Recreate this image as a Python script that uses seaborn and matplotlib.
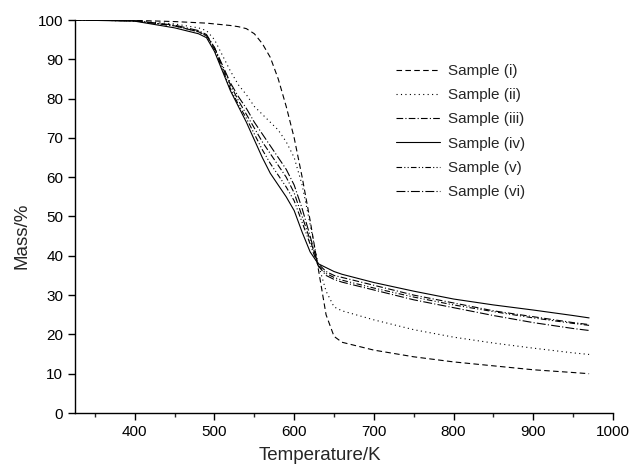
import numpy as np
import pandas as pd
import seaborn as sns
import matplotlib
matplotlib.use("Agg")
import matplotlib.pyplot as plt
from matplotlib.ticker import MultipleLocator

temperature = [325, 400, 450, 480, 490, 500, 510, 520, 530, 540, 550, 560, 570, 580, 590,
               600, 610, 620, 630, 640, 650, 660, 700, 750, 800, 850, 900, 950, 970]

mass_i = [100, 99.9, 99.6, 99.3, 99.2, 99, 98.8, 98.6, 98.3, 97.8, 96.5, 94, 90.5, 85, 78,
          70, 60, 49, 37, 25, 19.5, 18, 16, 14.3, 13, 12, 11, 10.3, 10]
mass_ii = [100, 99.8, 99, 98, 97.3, 95, 91, 87, 83.5, 81, 78, 76, 74, 72, 69,
           65, 58, 48, 38, 31, 27, 26, 23.7, 21.2, 19.3, 17.8, 16.5, 15.3, 14.9]
mass_iii = [100, 99.8, 98.5, 97, 96, 93, 88, 83.5, 79.5, 76, 72.5, 69, 66, 63, 60,
            56, 50, 44, 38, 36, 35, 34.5, 32.5, 30, 28, 26, 24.5, 23, 22.5]
mass_iv = [100, 99.7, 98, 96.5, 95.5, 92, 87, 82, 78, 74, 69.5, 65, 61, 58, 55,
           51.5, 46, 41, 38, 37, 36, 35.3, 33.2, 31, 29, 27.5, 26.2, 24.8, 24.2]
mass_v = [100, 99.8, 98.5, 97, 96, 92.5, 87.5, 82.5, 78.5, 75, 71, 67, 63.5, 60.5, 57.5,
          54, 48.5, 43, 37.5, 35.5, 34.5, 33.8, 31.8, 29.5, 27.5, 25.8, 24.2, 22.8, 22.3]
mass_vi = [100, 99.8, 98.7, 97.3, 96.3, 93, 88.5, 84, 80.5, 77.5, 74, 71, 68, 65, 62,
           58, 52, 45, 37.5, 35, 34, 33.3, 31.3, 28.8, 26.8, 24.8, 23, 21.5, 21]

samples = ["Sample (i)", "Sample (ii)", "Sample (iii)", "Sample (iv)", "Sample (v)", "Sample (vi)"]
series = [mass_i, mass_ii, mass_iii, mass_iv, mass_v, mass_vi]

df = pd.concat([pd.DataFrame({"Temperature": temperature, "Mass": m, "Sample": s})
                for s, m in zip(samples, series)], ignore_index=True)

sns.set_theme(style="ticks")
plt.rcParams['font.family'] = ['Liberation Sans', 'DejaVu Sans']

fig = plt.figure(figsize=(6.32, 4.69), dpi=100)
ax = fig.add_axes([75/632, 1 - 413/469, (613 - 75)/632, (413 - 20)/469])

dashes = {
    "Sample (i)": (5, 3),
    "Sample (ii)": (1, 3),
    "Sample (iii)": (6, 2, 1, 2),
    "Sample (iv)": "",
    "Sample (v)": (5, 2, 1, 2, 1, 2),
    "Sample (vi)": (8, 2, 1, 2),
}
palette = {s: "black" for s in samples}

sns.lineplot(data=df, x="Temperature", y="Mass", hue="Sample", style="Sample",
             dashes=dashes, palette=palette, linewidth=0.8, ax=ax, legend=True)

ax.set_xlim(325, 1000)
ax.set_ylim(0, 100)
ax.xaxis.set_major_locator(MultipleLocator(100))
ax.xaxis.set_minor_locator(MultipleLocator(50))
ax.yaxis.set_major_locator(MultipleLocator(10))
for s in ["top", "right"]:
    ax.spines[s].set_visible(False)
for s in ["left", "bottom"]:
    ax.spines[s].set_linewidth(1.0)
    ax.spines[s].set_color("black")
ax.tick_params(axis="both", which="major", length=5, width=1.0, labelsize=11, colors="black")
ax.tick_params(axis="x", which="minor", length=3, width=1.0)
ax.set_xlabel("Temperature/K", fontsize=13.5)
ax.set_ylabel("Mass/%", fontsize=13.5)
ax.xaxis.set_label_coords((320 - 75) / (613 - 75), -(455 - 413) / (413 - 20), transform=ax.transAxes)
ax.yaxis.set_label_coords(-(75 - 22) / (613 - 75), (413 - 236) / (413 - 20), transform=ax.transAxes)
ax.xaxis.label.set_va("center")
ax.yaxis.label.set_va("center")

leg = ax.legend(loc="upper left", bbox_to_anchor=(396/632, 1 - 64/469),
                bbox_transform=fig.transFigure, frameon=False, borderpad=0, borderaxespad=0,
                fontsize=11, handlelength=2.9, labelspacing=0.67, handletextpad=0.5)

fig.savefig("out.png", dpi=100)
